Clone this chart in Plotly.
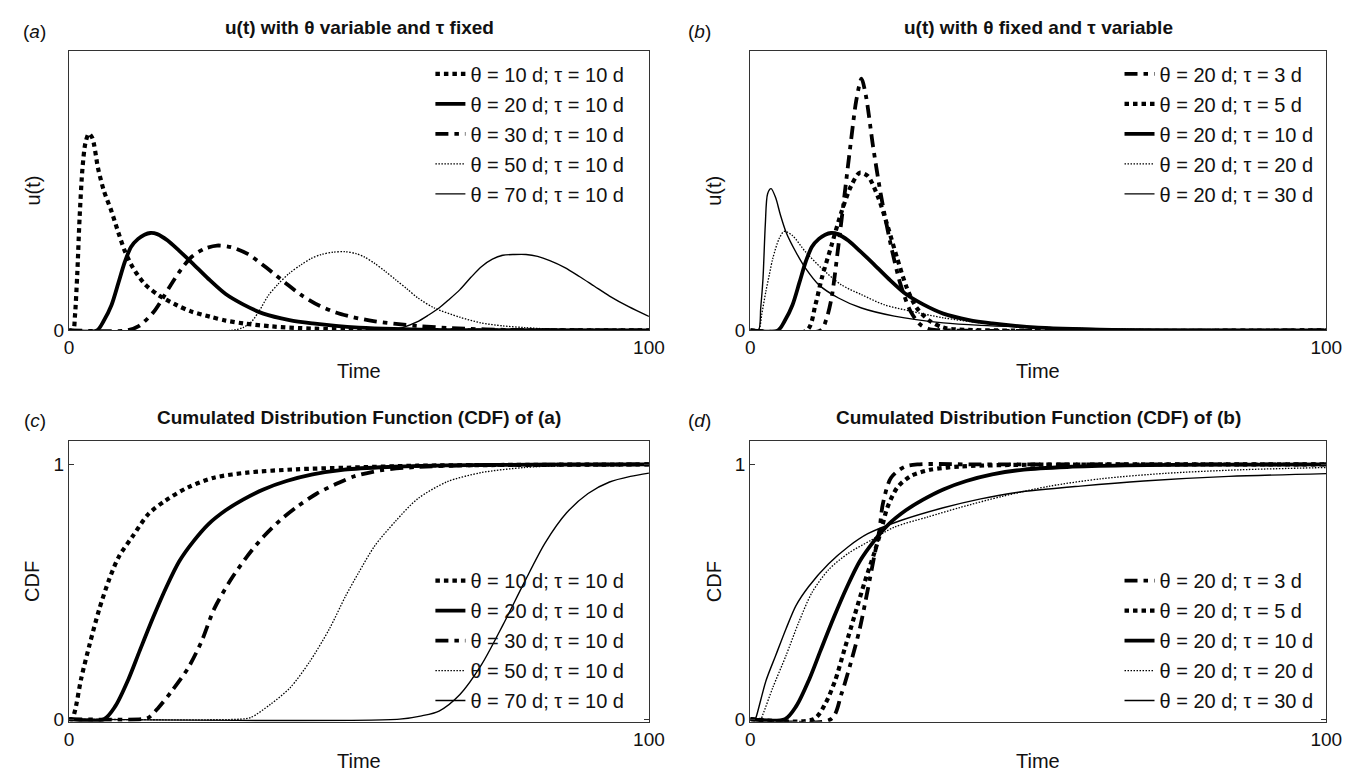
import plotly.graph_objects as go

# ---------------- data ----------------
# Panel (a): u(t), theta variable, tau = 10 d  (y in fraction of box height)
A10_t = [0, 0.7, 1.0, 1.4, 1.8, 2.3, 2.8, 3.4, 4.0, 5.0, 6.0, 7.3, 8.5, 9.6, 11.0, 13.0, 15.5, 18.6, 21.0, 24.3, 27.0, 30.0, 35.0, 40.0, 48.0, 60.0, 100]
A10_u = [0, 0, 0.05, 0.2, 0.4, 0.58, 0.67, 0.705, 0.69, 0.58, 0.5, 0.427, 0.35, 0.285, 0.225, 0.167, 0.125, 0.09, 0.068, 0.049, 0.035, 0.025, 0.014, 0.008, 0.003, 0, 0]

U2010_t = [0, 4.8, 6.0, 7.3, 8.5, 9.6, 10.7, 11.9, 13.0, 14.0, 15.2, 17.0, 19.0, 21.2, 24.0, 27.0, 30.0, 33.5, 38.0, 42.0, 46.0, 50.0, 56.0, 65.0, 100]
U2010_u = [0, 0, 0.035, 0.09, 0.17, 0.245, 0.3, 0.328, 0.343, 0.349, 0.345, 0.322, 0.285, 0.242, 0.185, 0.13, 0.093, 0.06, 0.037, 0.025, 0.016, 0.01, 0.005, 0.001, 0]

A30_t = [0, 10, 12.0, 14.5, 16.0, 17.4, 19.2, 21.1, 23.3, 25.5, 28.0, 30.7, 34.0, 37.3, 40.0, 43.2, 46.0, 49.0, 52.5, 56.4, 60.0, 66.0, 75.0, 100]
A30_u = [0, 0, 0.015, 0.064, 0.11, 0.158, 0.215, 0.263, 0.292, 0.304, 0.298, 0.275, 0.225, 0.17, 0.127, 0.088, 0.064, 0.047, 0.033, 0.023, 0.016, 0.008, 0.002, 0]

A50_t = [0, 28, 30, 31.4, 32.8, 34.3, 36.0, 38.0, 40.0, 41.7, 43.5, 45.5, 47.6, 49.5, 51.0, 52.7, 54.5, 56.4, 58.3, 60.1, 63.0, 67.4, 71.0, 74.8, 78.5, 85, 100]
A50_u = [0, 0, 0.01, 0.03, 0.07, 0.123, 0.165, 0.205, 0.235, 0.257, 0.272, 0.28, 0.282, 0.275, 0.262, 0.24, 0.212, 0.18, 0.148, 0.117, 0.08, 0.047, 0.027, 0.016, 0.01, 0.003, 0]

A70_t = [0, 55, 57.5, 60, 62, 63.8, 65.5, 67.4, 69.3, 71.1, 73, 74.8, 76.8, 78.8, 80.8, 82.9, 85.5, 88, 90.6, 93.2, 96.5, 100]
A70_u = [0, 0, 0.01, 0.03, 0.055, 0.08, 0.11, 0.146, 0.19, 0.228, 0.255, 0.269, 0.272, 0.272, 0.265, 0.25, 0.225, 0.193, 0.158, 0.123, 0.085, 0.05]

# Panel (b): u(t), theta = 20 d, tau variable
B3_t = [0, 12.2, 13.2, 14.1, 15.3, 16.4, 17.5, 18.4, 19.3, 20.1, 21.3, 22.7, 24.4, 26.1, 27.8, 29.5, 31.2, 34, 100]
B3_u = [0, 0, 0.04, 0.116, 0.305, 0.494, 0.683, 0.825, 0.902, 0.837, 0.66, 0.482, 0.305, 0.163, 0.069, 0.021, 0.004, 0, 0]

B5_t = [0, 9.8, 11.3, 12.4, 14.1, 15.8, 17.5, 19.0, 20.4, 22.1, 23.8, 25.5, 27.2, 28.9, 31.2, 33.5, 36, 100]
B5_u = [0, 0, 0.092, 0.187, 0.305, 0.423, 0.518, 0.565, 0.553, 0.482, 0.376, 0.258, 0.151, 0.08, 0.033, 0.01, 0.003, 0]

B20_t = [0, 1.4, 2.0, 2.7, 3.3, 3.9, 5.0, 5.9, 7.3, 9.6, 12.4, 15.8, 19.3, 23.2, 27.8, 33.5, 40, 47, 55, 65, 80, 100]
B20_u = [0, 0, 0.06, 0.14, 0.2, 0.258, 0.329, 0.355, 0.34, 0.281, 0.222, 0.163, 0.128, 0.092, 0.069, 0.045, 0.027, 0.015, 0.008, 0.004, 0.001, 0]

B30_t = [0, 1.4, 1.8, 2.2, 2.6, 3.0, 3.6, 4.4, 5.2, 6.2, 7.9, 9.6, 11.9, 15.3, 19.3, 25.0, 33.5, 40, 48, 60, 70, 100]
B30_u = [0, 0, 0.08, 0.187, 0.38, 0.49, 0.508, 0.475, 0.415, 0.352, 0.281, 0.222, 0.163, 0.116, 0.08, 0.051, 0.027, 0.018, 0.012, 0.006, 0.003, 0]

# Panel (c): CDF of (a)
C10_t = [0, 0.5, 1.0, 2.1, 3.5, 5.2, 6.9, 8.6, 10.9, 13.7, 16.6, 20.5, 25.0, 30.7, 39.2, 47.7, 60, 75, 100]
C10_F = [0, 0, 0.032, 0.161, 0.29, 0.432, 0.548, 0.639, 0.716, 0.806, 0.858, 0.91, 0.948, 0.968, 0.981, 0.987, 0.995, 0.998, 1.0]

F2010_t = [0, 6.0, 8.0, 10.2, 12.2, 14.5, 16.8, 19.0, 21.5, 24.0, 27.0, 30.0, 33.5, 37.5, 42.0, 47.5, 55, 65, 80, 100]
F2010_F = [0, 0, 0.052, 0.155, 0.27, 0.4, 0.52, 0.62, 0.7, 0.765, 0.82, 0.862, 0.902, 0.935, 0.961, 0.98, 0.99, 0.996, 0.999, 1.0]

C30_t = [0, 12.5, 13.7, 15.4, 17.7, 20.5, 22.8, 25.0, 27.9, 30.7, 33.5, 36.4, 39.2, 42.6, 46.0, 49.4, 54, 60, 70, 85, 100]
C30_F = [0, 0, 0.006, 0.045, 0.11, 0.2, 0.303, 0.432, 0.548, 0.639, 0.716, 0.781, 0.832, 0.884, 0.923, 0.955, 0.978, 0.99, 0.997, 0.999, 1.0]

C50_t = [0, 29.5, 31.3, 34.7, 38.1, 41.5, 44.9, 47.7, 49.9, 52.7, 56.4, 60.1, 65.2, 71.1, 78.5, 85.8, 100]
C50_F = [0, 0, 0.006, 0.058, 0.123, 0.226, 0.355, 0.484, 0.574, 0.68, 0.78, 0.865, 0.932, 0.968, 0.988, 0.996, 1.0]

C70_t = [0, 57.0, 60.8, 63.8, 67.4, 71.1, 74.8, 78.5, 82.1, 85.8, 89.5, 93.2, 96.8, 100]
C70_F = [0, 0, 0.013, 0.032, 0.097, 0.213, 0.369, 0.537, 0.692, 0.81, 0.886, 0.931, 0.953, 0.966]

# Panel (d): CDF of (b)
D3_t = [0, 14.0, 15.8, 17.5, 19.0, 20.4, 21.5, 22.4, 23.0, 24.4, 26.7, 29.0, 40, 100]
D3_F = [0, 0, 0.098, 0.226, 0.355, 0.51, 0.638, 0.741, 0.844, 0.947, 0.99, 1.0, 1.0, 1.0]

D5_t = [0, 11.0, 13.0, 14.7, 16.4, 18.1, 19.8, 21.5, 22.7, 23.8, 25.5, 27.8, 31.2, 36.4, 45, 100]
D5_F = [0, 0, 0.06, 0.15, 0.278, 0.407, 0.535, 0.651, 0.741, 0.831, 0.909, 0.954, 0.979, 0.992, 0.998, 1.0]

D20_t = [0, 1.8, 2.2, 3.9, 6.2, 8.4, 10.7, 13.6, 17.0, 21.0, 25.0, 30.7, 36.4, 43.8, 52, 61, 72, 85, 100]
D20_F = [0, 0, 0.02, 0.124, 0.25, 0.38, 0.497, 0.587, 0.651, 0.703, 0.754, 0.793, 0.831, 0.875, 0.915, 0.944, 0.965, 0.979, 0.988]

D30_t = [0, 0.8, 1.0, 2.7, 4.4, 6.2, 7.9, 10.1, 13.6, 17.0, 20.4, 26.1, 33.5, 40, 46.2, 57.3, 68.3, 83.1, 100]
D30_F = [0, 0, 0.008, 0.15, 0.25, 0.355, 0.445, 0.52, 0.61, 0.677, 0.728, 0.78, 0.83, 0.865, 0.89, 0.915, 0.935, 0.953, 0.964]

LABELS_A = ["θ = 10 d; τ = 10 d", "θ = 20 d; τ = 10 d", "θ = 30 d; τ = 10 d",
            "θ = 50 d; τ = 10 d", "θ = 70 d; τ = 10 d"]
LABELS_B = ["θ = 20 d; τ = 3 d", "θ = 20 d; τ = 5 d", "θ = 20 d; τ = 10 d",
            "θ = 20 d; τ = 20 d", "θ = 20 d; τ = 30 d"]
X_TICKS = [0, 100]

# ---------------- styles ----------------
THICK_DOT = dict(width=4.2, dash="4.5px,4px")
THICK_SOLID = dict(width=3.8, dash="solid")
THICK_DASHDOT = dict(width=3.8, dash="13px,6px,4.5px,6px")
THIN_DOT = dict(width=1.3, dash="1.5px,1.5px")
THIN_SOLID = dict(width=1.4, dash="solid")

FONT = "Liberation Sans, Arial, Helvetica, sans-serif"
W, H = 1350, 774

# box geometry in pixels
LX = (57, 646)
RX = (749, 1334)
TOPY = (44, 327)
BOTY = (439, 724)


def px_dom_x(p):
    return [p[0] / W, p[1] / W]


def px_dom_y(p):
    return [1 - p[1] / H, 1 - p[0] / H]


fig = go.Figure()

panels = [
    ("x", "y", "legend", [(A10_t, A10_u, THICK_DOT), (U2010_t, U2010_u, THICK_SOLID),
                          (A30_t, A30_u, THICK_DASHDOT), (A50_t, A50_u, THIN_DOT),
                          (A70_t, A70_u, THIN_SOLID)], LABELS_A),
    ("x2", "y2", "legend2", [(B3_t, B3_u, THICK_DASHDOT), (B5_t, B5_u, THICK_DOT),
                             (U2010_t, U2010_u, THICK_SOLID), (B20_t, B20_u, THIN_DOT),
                             (B30_t, B30_u, THIN_SOLID)], LABELS_B),
    ("x3", "y3", "legend3", [(C10_t, C10_F, THICK_DOT), (F2010_t, F2010_F, THICK_SOLID),
                             (C30_t, C30_F, THICK_DASHDOT), (C50_t, C50_F, THIN_DOT),
                             (C70_t, C70_F, THIN_SOLID)], LABELS_A),
    ("x4", "y4", "legend4", [(D3_t, D3_F, THICK_DASHDOT), (D5_t, D5_F, THICK_DOT),
                             (F2010_t, F2010_F, THICK_SOLID), (D20_t, D20_F, THIN_DOT),
                             (D30_t, D30_F, THIN_SOLID)], LABELS_B),
]

for xa, ya, lg, series, labels in panels:
    for i, ((t, v, st), name) in enumerate(zip(series, labels)):
        fig.add_trace(go.Scatter(
            x=t, y=v, mode="lines", name=name, xaxis=xa, yaxis=ya,
            line=dict(color="black", shape="spline", smoothing=0.8, **st),
            legend=lg, legendgroup=f"{lg}_{i}",
        ))

axis_common = dict(
    showline=True, linecolor="#333", linewidth=1.3, mirror="ticks",
    ticks="inside", ticklen=5, tickcolor="#333", showgrid=False, zeroline=False,
    tickfont=dict(family=FONT, size=19, color="#111"),
)

fig.update_layout(
    width=W, height=H, margin=dict(l=0, r=0, t=0, b=0),
    paper_bgcolor="white", plot_bgcolor="white", showlegend=True,
    xaxis=dict(domain=px_dom_x(LX), anchor="y", range=[0, 100], tickvals=X_TICKS, **axis_common),
    yaxis=dict(domain=px_dom_y(TOPY), anchor="x", range=[0, 1], tickvals=[0], **axis_common),
    xaxis2=dict(domain=px_dom_x(RX), anchor="y2", range=[0, 100], tickvals=X_TICKS, **axis_common),
    yaxis2=dict(domain=px_dom_y(TOPY), anchor="x2", range=[0, 1], tickvals=[0], **axis_common),
    xaxis3=dict(domain=px_dom_x(LX), anchor="y3", range=[0, 100], tickvals=X_TICKS, **axis_common),
    yaxis3=dict(domain=px_dom_y(BOTY), anchor="x3", range=[-0.01, 1.093], tickvals=[0, 1], **axis_common),
    xaxis4=dict(domain=px_dom_x(RX), anchor="y4", range=[0, 100], tickvals=X_TICKS, **axis_common),
    yaxis4=dict(domain=px_dom_y(BOTY), anchor="x4", range=[-0.01, 1.093], tickvals=[0, 1], **axis_common),
)

leg_common = dict(font=dict(family=FONT, size=20, color="#111"), bgcolor="rgba(0,0,0,0)",
                  borderwidth=0, traceorder="grouped", tracegroupgap=1,
                  xanchor="left", yanchor="top")
fig.update_layout(
    legend=dict(x=424 / W, y=1 - 47 / H, **leg_common),
    legend2=dict(x=1124 / W, y=1 - 47 / H, **leg_common),
    legend3=dict(x=424 / W, y=1 - 561 / H, **leg_common),
    legend4=dict(x=1124 / W, y=1 - 561 / H, **leg_common),
)

ann = []
def text(x, y, s, size=19, angle=0):
    ann.append(dict(x=x / W, y=1 - y / H, xref="paper", yref="paper", text=s, showarrow=False,
                    xanchor="center", yanchor="middle", textangle=angle,
                    font=dict(family=FONT, size=size, color="#111")))

# titles
text((LX[0] + LX[1]) / 2, 20, "<b>u(t) with θ variable and τ fixed</b>", size=19)
text((RX[0] + RX[1]) / 2, 20, "<b>u(t) with θ fixed and τ variable</b>", size=19)
text((LX[0] + LX[1]) / 2, 415, "<b>Cumulated Distribution Function (CDF) of (a)</b>", size=19)
text((RX[0] + RX[1]) / 2, 415, "<b>Cumulated Distribution Function (CDF) of (b)</b>", size=19)
# panel letters
text(22, 24, "(<i>a</i>)", size=19)
text(697, 24, "(<i>b</i>)", size=19)
text(22, 418, "(<i>c</i>)", size=19)
text(697, 418, "(<i>d</i>)", size=19)
# axis titles
text((LX[0] + LX[1]) / 2, TOPY[1] + 41, "Time", size=20)
text((RX[0] + RX[1]) / 2, TOPY[1] + 41, "Time", size=20)
text((LX[0] + LX[1]) / 2, BOTY[1] + 40, "Time", size=20)
text((RX[0] + RX[1]) / 2, BOTY[1] + 40, "Time", size=20)
text(20, (TOPY[0] + TOPY[1]) / 2, "u(t)", size=20, angle=-90)
text(712, (TOPY[0] + TOPY[1]) / 2, "u(t)", size=20, angle=-90)
text(20, (BOTY[0] + BOTY[1]) / 2, "CDF", size=20, angle=-90)
text(712, (BOTY[0] + BOTY[1]) / 2, "CDF", size=20, angle=-90)
fig.update_layout(annotations=ann)

fig.write_html("out.html")
